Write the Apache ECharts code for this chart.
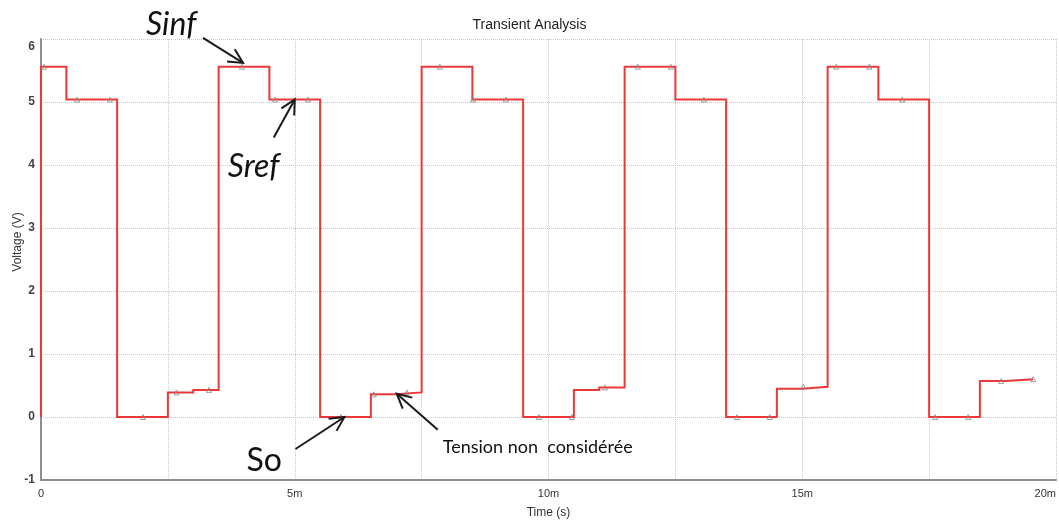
<!DOCTYPE html>
<html>
<head>
<meta charset="utf-8">
<title>Transient Analysis</title>
<script src="https://cdn.jsdelivr.net/npm/echarts@6/dist/echarts.min.js"></script>
<style>
  html, body { margin: 0; padding: 0; background: #fff; }
  #chart { width: 1059px; height: 524px; }
</style>
</head>
<body>
<div id="chart"></div>
<script>
// Step-wise output voltage: each level holds from its start time (ms) to the next one.
const stepTimes = [0, 0, 0.5, 1.5, 2.5, 3.0, 3.5, 4.5, 5.5, 6.5, 7.0, 7.5, 8.5, 9.5, 10.5, 11.0, 11.5, 12.5, 13.5, 14.5, 15.0, 15.5, 16.5, 17.5, 18.5, 19.0];
const stepLevels = [0, 5.56, 5.04, 0, 0.39, 0.43, 5.56, 5.04, 0, 0.36, 0.39, 5.56, 5.04, 0, 0.43, 0.47, 5.56, 5.04, 0, 0.45, 0.48, 5.56, 5.04, 0, 0.57, 0.60];
const traceEnd = 19.55;

// Sampling instants (ms) where the simulator placed its probe markers.
const markerTimes = [0.06, 0.71, 1.36, 2.01, 2.67, 3.31, 3.96, 4.61, 5.26, 5.91, 6.56, 7.21, 7.86, 8.51, 9.16, 9.81, 10.46, 11.11, 11.76, 12.41, 13.06, 13.71, 14.36, 15.02, 15.67, 16.32, 16.97, 17.62, 18.27, 18.92, 19.55];

// Axis ticks
const yTicks = { min: -1, max: 6, step: 1 };
const xTicks = { min: 0, max: 20, step: 2.5, labelEvery: 5 };

// Callouts: label text and the point (ms, V) the arrow points at
const calloutTexts = ['Sinf', 'Sref', 'So', 'Tension non  considérée'];
const calloutTips = [[3.98, 5.62], [5.0, 5.04], [5.98, 0], [7.01, 0.37]];

const FONT = '"Liberation Sans", Arial, sans-serif';

function levelAt(t) {
  let v = stepLevels[0];
  for (let i = 0; i < stepTimes.length; i++) {
    if (stepTimes[i] <= t) v = stepLevels[i];
  }
  return v;
}

// Explicit corner points: vertical jump at each step time, flat in between.
const lineData = [];
stepTimes.forEach((t, i) => {
  if (i > 0) lineData.push([t, stepLevels[i - 1]]);
  lineData.push([t, stepLevels[i]]);
});
lineData.push([traceEnd, stepLevels[stepLevels.length - 1]]);

const markerData = markerTimes.map(t => [t, levelAt(t)]);

const chart = echarts.init(document.getElementById('chart'), null, { renderer: 'canvas' });

const option = {
  animation: false,
  backgroundColor: '#ffffff',
  title: {
    text: 'Transient Analysis',
    left: 'center',
    top: 13,
    textStyle: { fontFamily: FONT, fontSize: 14, fontWeight: 'normal', color: '#222' }
  },
  grid: { left: 41, right: 2, top: 39, bottom: 41, containLabel: false },
  xAxis: {
    type: 'value',
    min: xTicks.min,
    max: xTicks.max,
    interval: xTicks.step,
    name: 'Time (s)',
    nameLocation: 'middle',
    nameGap: 27,
    nameTextStyle: { fontFamily: FONT, fontSize: 12, color: '#333' },
    axisLine: { show: true, onZero: false, lineStyle: { color: '#8e8e8e', width: 2 } },
    axisTick: { show: false },
    axisLabel: {
      fontFamily: FONT, fontSize: 11, color: '#333', margin: 8,
      alignMaxLabel: 'right',
      formatter: v => (v % xTicks.labelEvery === 0 ? (v === 0 ? '0' : v + 'm') : '')
    },
    splitLine: { show: true, lineStyle: { color: '#c8c8c8', type: 'dotted', width: 1 } }
  },
  yAxis: {
    type: 'value',
    min: yTicks.min,
    max: yTicks.max,
    interval: yTicks.step,
    axisLine: { show: true, onZero: false, lineStyle: { color: '#8e8e8e', width: 2 } },
    axisTick: { show: false },
    axisLabel: {
      fontFamily: FONT, fontSize: 12, fontWeight: 'bold', color: '#444', margin: 6,
      formatter: v => (v === yTicks.max ? '{top|' + v + '}' : String(v)),
      rich: { top: { fontFamily: FONT, fontSize: 12, fontWeight: 'bold', color: '#444', padding: [16, 0, 0, 0] } }
    },
    splitLine: { show: true, lineStyle: { color: '#c8c8c8', type: 'dotted', width: 1 } }
  },
  series: [
    {
      name: 'V(out)',
      type: 'line',
      data: lineData,
      showSymbol: false,
      sampling: null,
      lineStyle: { color: '#ee3838', width: 2, join: 'miter' },
      z: 3
    },
    {
      name: 'probes',
      type: 'scatter',
      data: markerData,
      symbol: 'triangle',
      symbolSize: 5,
      itemStyle: { color: 'rgba(0,0,0,0)', borderColor: '#8a8a8a', borderWidth: 1 },
      z: 4
    }
  ]
};

chart.setOption(option);

// Callout arrows and labels, anchored on the data points they refer to
const calloutLayout = [
  { tail: [-40, -25], text: [-97, -38], font: 'italic 32px Lato, "Open Sans", sans-serif' },
  { tail: [-21, 38],  text: [-67, 67],  font: 'italic 32px Lato, "Open Sans", sans-serif' },
  { tail: [-49, 32],  text: [-98, 44],  font: '32px Lato, "Open Sans", sans-serif' },
  { tail: [41, 36],   text: [46, 53],   font: '18px Lato, "Open Sans", sans-serif' }
];

const graphics = [];
calloutTips.forEach((tip, i) => {
  const p = chart.convertToPixel({ gridIndex: 0 }, tip);
  const L = calloutLayout[i];
  const tail = [p[0] + L.tail[0], p[1] + L.tail[1]];
  const ang = Math.atan2(tail[1] - p[1], tail[0] - p[0]);
  const wing = 16, spread = 27 * Math.PI / 180;
  const w1 = [p[0] + wing * Math.cos(ang + spread), p[1] + wing * Math.sin(ang + spread)];
  const w2 = [p[0] + wing * Math.cos(ang - spread), p[1] + wing * Math.sin(ang - spread)];
  graphics.push({
    type: 'polyline', z: 10,
    shape: { points: [tail, p] },
    style: { stroke: '#1a1a1a', lineWidth: 2, fill: null }
  });
  graphics.push({
    type: 'polyline', z: 10,
    shape: { points: [w1, p, w2] },
    style: { stroke: '#1a1a1a', lineWidth: 2, fill: null }
  });
  graphics.push({
    type: 'text', z: 10,
    x: p[0] + L.text[0], y: p[1] + L.text[1],
    style: { text: calloutTexts[i], font: L.font, fill: '#111', textAlign: 'left', textVerticalAlign: 'middle' }
  });
});

// Vertical axis title
graphics.push({
  type: 'text', z: 10,
  x: 18, y: 242, rotation: Math.PI / 2,
  style: { text: 'Voltage (V)', font: '12px ' + FONT, fill: '#333', textAlign: 'center', textVerticalAlign: 'middle' }
});

chart.setOption({ graphic: graphics });
</script>
</body>
</html>
